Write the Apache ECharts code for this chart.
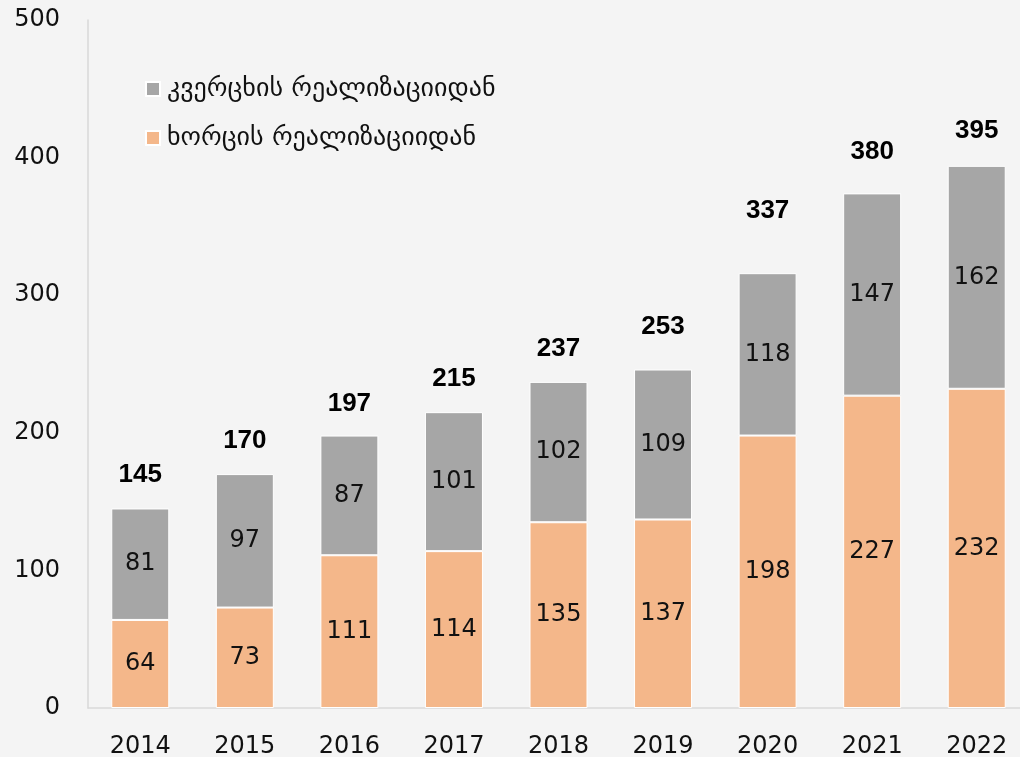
<!DOCTYPE html>
<html><head><meta charset="utf-8">
<script src="https://cdn.jsdelivr.net/npm/echarts@6/dist/echarts.min.js"></script>
<style>html,body{margin:0;padding:0;background:#f4f4f4}#c{width:1020px;height:757px}</style>
</head><body><div id="c"></div>
<script>
const years = ['2014','2015','2016','2017','2018','2019','2020','2021','2022'];
const fromSales = [64, 73, 111, 114, 135, 137, 198, 227, 232];
const fromServices = [81, 97, 87, 101, 102, 109, 118, 147, 162];
const totals = [145, 170, 197, 215, 237, 253, 337, 380, 395];
const nameSales = 'ხორცის რეალიზაციიდან';
const nameServices = 'კვერცხის რეალიზაციიდან';
const font = '"DejaVu Sans", sans-serif';

const chart = echarts.init(document.getElementById('c'));
chart.setOption({
  backgroundColor: '#f4f4f4',
  textStyle: {fontFamily: font},
  animation: false,
  grid: {left: 88, width: 941, top: 20, bottom: 49, containLabel: false, outerBoundsMode: 'none'},
  legend: {
    orient: 'vertical', left: 140, top: 71, itemGap: 23,
    itemWidth: 14, itemHeight: 14, icon: 'rect',
    data: [nameServices, nameSales],
    textStyle: {fontSize: 26, color: '#111', fontFamily: font, padding: [0, 0, 0, 2]}
  },
  xAxis: {
    type: 'category', data: years,
    axisLine: {show: true, lineStyle: {color: '#d9d9d9', width: 1.5}},
    axisTick: {show: false},
    axisLabel: {fontSize: 24, color: '#111', margin: 27}
  },
  yAxis: {
    type: 'value', min: 0, max: 500, interval: 100,
    axisLine: {show: true, lineStyle: {color: '#d9d9d9', width: 1.5}},
    axisTick: {show: false},
    splitLine: {show: false},
    axisLabel: {fontSize: 24, color: '#111', margin: 28}
  },
  series: [
    {
      name: nameSales, type: 'bar', stack: 't', data: fromSales, barWidth: 58,
      itemStyle: {color: '#f4b78a', borderColor: '#ffffff', borderWidth: 1},
      label: {show: true, position: 'inside', fontSize: 24, color: '#111'}
    },
    {
      name: nameServices, type: 'bar', stack: 't', data: fromServices, barWidth: 58,
      itemStyle: {color: '#a6a6a6', borderColor: '#ffffff', borderWidth: 1},
      label: {show: true, position: 'inside', fontSize: 24, color: '#111'}
    },
    {
      name: 'total', type: 'line', data: totals, symbol: 'circle', symbolSize: 1,
      showSymbol: true,
      itemStyle: {color: 'rgba(0,0,0,0)'},
      lineStyle: {width: 0, color: 'rgba(0,0,0,0)'}, silent: true,
      label: {show: true, position: 'top', distance: 20, fontSize: 26, fontWeight: 'bold',
        fontFamily: '"Liberation Sans", sans-serif', color: '#000'}
    }
  ]
});
</script></body></html>
